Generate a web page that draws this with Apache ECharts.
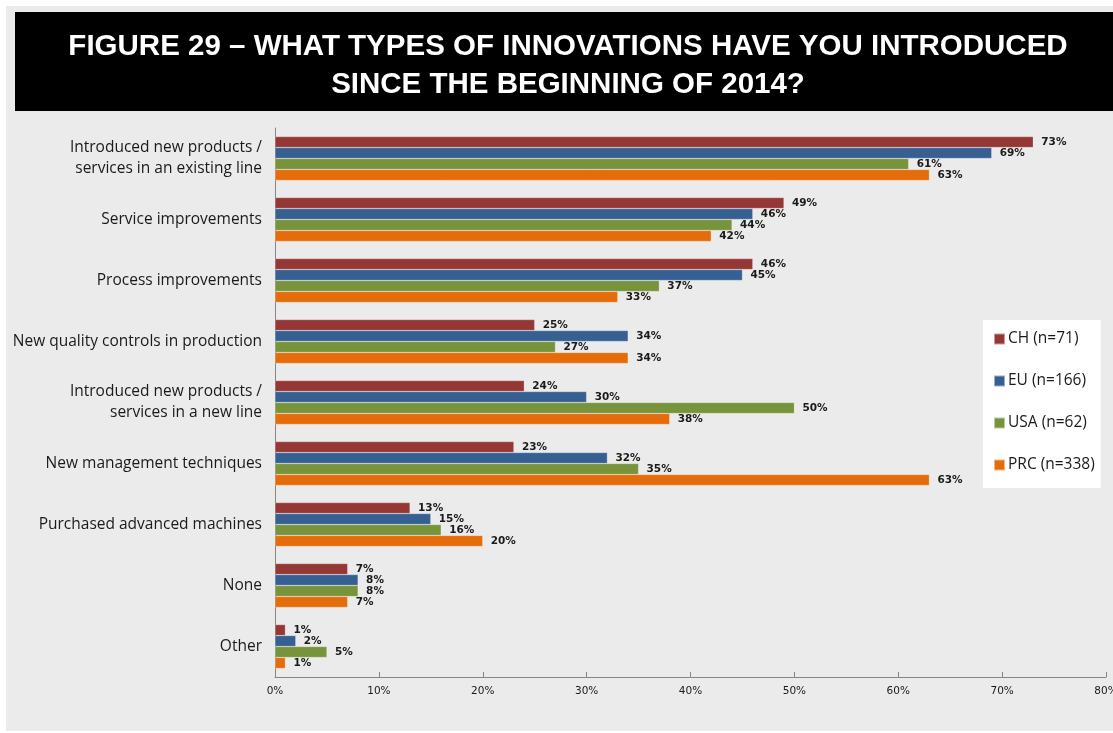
<!DOCTYPE html>
<html>
<head>
<meta charset="utf-8">
<script src="https://cdn.jsdelivr.net/npm/echarts@6/dist/echarts.min.js"></script>
<style>
  html, body { margin: 0; padding: 0; background: #ffffff; overflow: hidden; }
  #bg { position: absolute; left: 6px; top: 6px; width: 1107px; height: 725px; background: #ebebeb; }
  #chart { position: absolute; left: 0; top: 0; width: 1113px; height: 733px; }
</style>
</head>
<body>
<div id="bg"></div>
<div id="chart"></div>
<script>
const titleLines = ['FIGURE 29 \u2013 WHAT TYPES OF INNOVATIONS HAVE YOU INTRODUCED', 'SINCE THE BEGINNING OF 2014?'];

const categories = [
  'Introduced new products / services in an existing line',
  'Service improvements',
  'Process improvements',
  'New quality controls in production',
  'Introduced new products / services in a new line',
  'New management techniques',
  'Purchased advanced machines',
  'None',
  'Other'
];

const seriesNames = ['CH (n=71)', 'EU (n=166)', 'USA (n=62)', 'PRC (n=338)'];
const seriesColors = ['#953735', '#376092', '#77933C', '#E46C0A'];

const valuesCH  = [73, 49, 46, 25, 24, 23, 13, 7, 1];
const valuesEU  = [69, 46, 45, 34, 30, 32, 15, 8, 2];
const valuesUSA = [61, 44, 37, 27, 50, 35, 16, 8, 5];
const valuesPRC = [63, 42, 33, 34, 38, 63, 20, 7, 1];

const xTicks = { min: 0, max: 80, interval: 10 };

const allValues = [valuesCH, valuesEU, valuesUSA, valuesPRC];

const textFont = 'Open Sans, Liberation Sans, Arial, sans-serif';

const chart = echarts.init(document.getElementById('chart'));

const option = {
  backgroundColor: 'transparent',
  animation: false,
  graphic: [
    { type: 'rect', z: -10, shape: { x: 15, y: 12, width: 1098, height: 99 }, style: { fill: '#000000' } }
  ],
  title: {
    text: titleLines.join('\n'),
    left: 568,
    textAlign: 'center',
    top: 28,
    padding: 0,
    textStyle: {
      color: '#ffffff',
      fontFamily: 'Liberation Sans, Arial, sans-serif',
      fontWeight: 'bold',
      fontSize: 29.5,
      lineHeight: 38
    }
  },
  legend: {
    orient: 'vertical',
    left: 983,
    top: 320,
    backgroundColor: '#ffffff',
    padding: [11, 6, 15, 10],
    itemGap: 26,
    itemWidth: 11,
    itemHeight: 11,
    icon: 'rect',
    textStyle: {
      fontFamily: textFont,
      fontSize: 15.5,
      color: '#1a1a1a',
      padding: [0, 0, 0, -2]
    },
    data: seriesNames
  },
  grid: {
    left: 275,
    right: 7,
    top: 128,
    bottom: 56,
    containLabel: false,
    outerBoundsMode: 'none'
  },
  xAxis: {
    type: 'value',
    min: xTicks.min,
    max: xTicks.max,
    interval: xTicks.interval,
    axisLine: { show: true, lineStyle: { color: '#868686', width: 1 } },
    axisTick: { show: true, inside: true, length: 5, lineStyle: { color: '#868686' } },
    splitLine: { show: false },
    axisLabel: {
      formatter: '{value}%',
      margin: 9,
      fontFamily: 'DejaVu Sans, Verdana, sans-serif',
      fontSize: 10.5,
      color: '#1a1a1a'
    }
  },
  yAxis: {
    type: 'category',
    inverse: true,
    data: categories,
    axisLine: { show: true, lineStyle: { color: '#868686', width: 1 } },
    axisTick: { show: false },
    axisLabel: {
      margin: 13,
      fontFamily: textFont,
      fontSize: 15.5,
      lineHeight: 21,
      color: '#1a1a1a',
      formatter: function (v) { return v.replace('/ ', '/\n'); }
    }
  },
  series: seriesNames.map(function (name, i) {
    return {
      name: name,
      type: 'bar',
      data: allValues[i],
      barGap: '0%',
      barCategoryGap: '28%',
      itemStyle: { color: seriesColors[i], borderColor: 'rgba(255,255,255,0.5)', borderWidth: 0.5 },
      label: {
        show: true,
        position: 'right',
        distance: 8,
        formatter: '{c}%',
        fontFamily: 'DejaVu Sans, Verdana, sans-serif',
        fontWeight: 'bold',
        fontSize: 10.5,
        color: '#1a1a1a'
      }
    };
  })
};

chart.setOption(option);
</script>
</body>
</html>
